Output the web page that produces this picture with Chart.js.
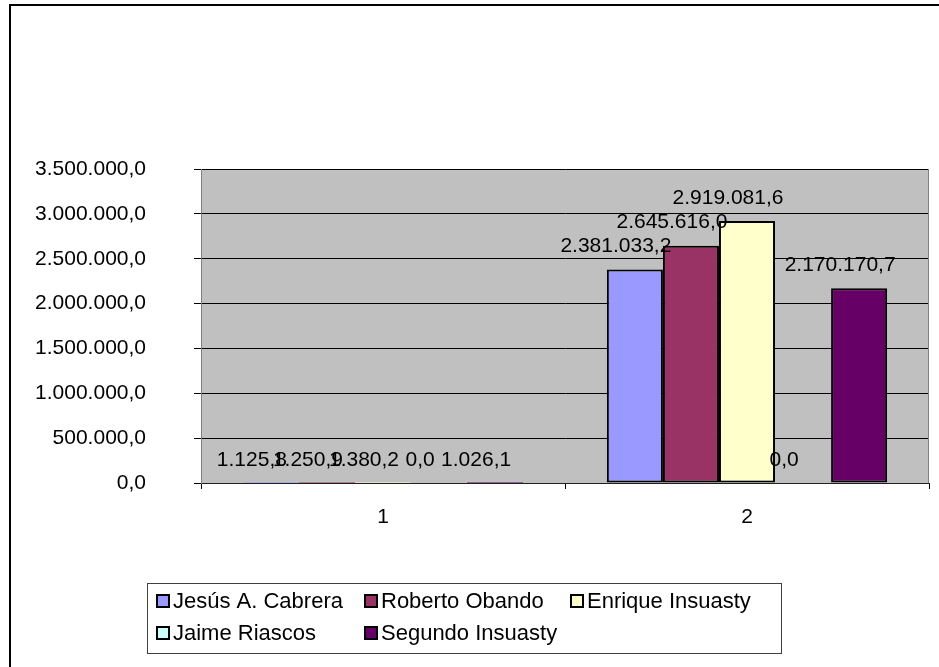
<!DOCTYPE html>
<html lang="es">
<head>
<meta charset="utf-8">
<title>Ventas por vendedor</title>
<script src="https://cdn.jsdelivr.net/npm/chart.js@4.4.0/dist/chart.umd.min.js"></script>
<style>
  html, body { margin: 0; padding: 0; background: #fff; }
  canvas { display: block; }
</style>
</head>
<body>
<canvas id="grafico" width="939" height="667"></canvas>
<script>
// datos
const categorias = ['1', '2'];
const vendedores = ['Jesús A. Cabrera', 'Roberto Obando', 'Enrique Insuasty', 'Jaime Riascos', 'Segundo Insuasty'];
const cabrera = [1125.8, 2381033.2];
const obando = [1250.9, 2645616.0];
const enriqueInsuasty = [1380.2, 2919081.6];
const riascos = [0, 0];
const segundoInsuasty = [1026.1, 2170170.7];
const colores = ['#9999ff', '#993366', '#ffffcc', '#ccffff', '#660066'];
const yMax = 3500000;
const yPaso = 500000;

const series = [cabrera, obando, enriqueInsuasty, riascos, segundoInsuasty];
const fuente = '"Liberation Sans", Arial, sans-serif';

function formato (v) {
    const partes = v.toFixed(1).split('.');
    return partes[0].replace(/\B(?=(\d{3})+(?!\d))/g, '.') + ',' + partes[1];
}

// marco exterior y fondo gris del area de trazado
const fondo = {
    id: 'fondo',
    beforeDraw (chart) {
        const ctx = chart.ctx, a = chart.chartArea;
        ctx.save();
        ctx.strokeStyle = '#000';
        ctx.lineWidth = 2;
        ctx.strokeRect(10, 5, 1200, 1200);
        ctx.fillStyle = '#c0c0c0';
        ctx.fillRect(a.left, a.top, a.right - a.left, a.bottom - a.top);
        ctx.restore();
    },
    afterDraw (chart) {
        const ctx = chart.ctx, a = chart.chartArea;
        ctx.save();
        ctx.strokeStyle = '#808080';
        ctx.lineWidth = 1;
        ctx.beginPath();
        ctx.moveTo(Math.round(a.right) - 0.5, a.top);
        ctx.lineTo(Math.round(a.right) - 0.5, a.bottom);
        ctx.stroke();
        ctx.restore();
    }
};

// etiquetas de valor sobre las barras
const etiquetas = {
    id: 'etiquetas',
    afterDatasetsDraw (chart) {
        const ctx = chart.ctx;
        ctx.save();
        ctx.font = '21px ' + fuente;
        ctx.fillStyle = '#000';
        ctx.textAlign = 'center';
        ctx.textBaseline = 'middle';
        chart.data.datasets.forEach((ds, i) => {
            chart.getDatasetMeta(i).data.forEach((bar, j) => {
                ctx.fillText(formato(ds.data[j]), bar.x - 19, bar.y - 23);
            });
        });
        ctx.restore();
    }
};

// leyenda con recuadro, debajo del grafico
const leyenda = {
    id: 'leyenda',
    afterDraw (chart) {
        const ctx = chart.ctx;
        const columnas = [157, 365, 571];
        const filas = [601, 633];
        ctx.save();
        ctx.strokeStyle = '#404040';
        ctx.lineWidth = 1;
        ctx.strokeRect(147.5, 583.5, 634, 70);
        ctx.font = '22px ' + fuente;
        ctx.textBaseline = 'middle';
        ctx.textAlign = 'left';
        chart.data.datasets.forEach((ds, i) => {
            const x = columnas[i % 3];
            const y = filas[Math.floor(i / 3)];
            ctx.fillStyle = ds.backgroundColor;
            ctx.fillRect(x, y - 6, 12, 12);
            ctx.strokeStyle = '#000';
            ctx.lineWidth = 2;
            ctx.strokeRect(x, y - 6, 12, 12);
            ctx.fillStyle = '#000';
            ctx.fillText(ds.label, x + 16, y + 1);
        });
        ctx.restore();
    }
};

new Chart(document.getElementById('grafico'), {
    type: 'bar',
    data: {
        labels: categorias,
        datasets: vendedores.map((nombre, i) => ({
            label: nombre,
            data: series[i],
            backgroundColor: colores[i],
            borderColor: '#000',
            // las barras casi nulas no muestran borde
            borderWidth: c => (c.raw > yMax / 500 ? 2 : 0),
            borderSkipped: false,
            barPercentage: 1,
            categoryPercentage: 0.77
        }))
    },
    options: {
        responsive: false,
        animation: false,
        layout: { padding: { top: 169, right: 10, bottom: 134, left: 0 } },
        plugins: {
            legend: { display: false },
            tooltip: { enabled: false }
        },
        scales: {
            x: {
                afterFit (scale) { scale.height = 50; },
                grid: { drawOnChartArea: false, drawTicks: true, tickLength: 6, color: '#000', offset: true },
                border: { color: '#202020', width: 1 },
                ticks: { color: '#000', font: { family: fuente, size: 21 }, padding: 16 }
            },
            y: {
                min: 0,
                max: yMax,
                afterFit (scale) { scale.width = 201; },
                grid: { color: '#000', lineWidth: 1, tickLength: 7 },
                border: { color: '#808080', width: 1 },
                ticks: {
                    stepSize: yPaso,
                    color: '#000',
                    padding: 48,
                    font: { family: fuente, size: 21 },
                    callback: v => formato(v)
                }
            }
        }
    },
    plugins: [fondo, etiquetas, leyenda]
});
</script>
</body>
</html>
